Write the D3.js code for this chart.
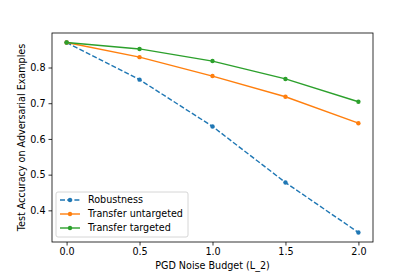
<!DOCTYPE html>
<html>
<head>
<meta charset="utf-8">
<title>PGD noise budget</title>
<script src="https://cdn.jsdelivr.net/npm/d3@7"></script>
<style>
    body { margin: 0; background: #fff; }
    svg text { font-family: "DejaVu Sans", sans-serif; font-size: 9.6px; fill: #000; }
</style>
</head>
<body>
<div id="chart"></div>
<script>
    // values
    var budgets = [0.0, 0.5, 1.0, 1.5, 2.0];
    var robustness = [0.870, 0.766, 0.635, 0.478, 0.338];
    var transferUntargeted = [0.870, 0.829, 0.776, 0.718, 0.644];
    var transferTargeted = [0.870, 0.852, 0.818, 0.768, 0.704];
    var xTicks = [0.0, 0.5, 1.0, 1.5, 2.0];
    var yTicks = [0.4, 0.5, 0.6, 0.7, 0.8];

    var series = [
        {name: "Robustness", values: robustness, color: "#1f77b4", dash: "5,2.2"},
        {name: "Transfer untargeted", values: transferUntargeted, color: "#ff7f0e", dash: null},
        {name: "Transfer targeted", values: transferTargeted, color: "#2ca02c", dash: null}
    ];

    var W = 415, H = 277;
    var pLeft = 52, pRight = 373, pTop = 33, pBottom = 242;

    var svg = d3.select("#chart").append("svg")
        .attr("width", W).attr("height", H);

    var x = d3.scaleLinear().domain([-0.1, 2.1]).range([pLeft, pRight]);
    var y = d3.scaleLinear().domain([0.3114, 0.8966]).range([pBottom, pTop]);

    // axes
    svg.append("g")
        .attr("transform", "translate(0," + pBottom + ")")
        .call(d3.axisBottom(x).tickValues(xTicks).tickFormat(d3.format(".1f")).tickSize(3.5).tickPadding(3))
        .call(function (g) { g.select(".domain").remove(); });

    svg.append("g")
        .attr("transform", "translate(" + pLeft + ",0)")
        .call(d3.axisLeft(y).tickValues(yTicks).tickFormat(d3.format(".1f")).tickSize(3.5).tickPadding(3))
        .call(function (g) { g.select(".domain").remove(); });

    svg.selectAll(".tick line").attr("stroke", "#000").attr("stroke-width", 0.8);
    svg.selectAll(".tick text").style("font-size", "9.6px");

    // frame
    svg.append("rect")
        .attr("x", pLeft).attr("y", pTop)
        .attr("width", pRight - pLeft).attr("height", pBottom - pTop)
        .attr("fill", "none").attr("stroke", "#000").attr("stroke-width", 0.8);

    var line = d3.line()
        .x(function (d, i) { return x(budgets[i]); })
        .y(function (d) { return y(d); });

    series.forEach(function (s) {
        svg.append("path")
            .datum(s.values)
            .attr("d", line)
            .attr("fill", "none")
            .attr("stroke", s.color)
            .attr("stroke-width", 1.4)
            .attr("stroke-dasharray", s.dash);
        svg.selectAll(null)
            .data(s.values)
            .enter().append("circle")
            .attr("cx", function (d, i) { return x(budgets[i]); })
            .attr("cy", function (d) { return y(d); })
            .attr("r", 2.2)
            .attr("fill", s.color);
    });

    // axis labels
    svg.append("text")
        .attr("x", (pLeft + pRight) / 2).attr("y", 269)
        .attr("text-anchor", "middle")
        .text("PGD Noise Budget (L_2)");

    svg.append("text")
        .attr("transform", "translate(25," + ((pTop + pBottom) / 2) + ") rotate(-90)")
        .attr("text-anchor", "middle")
        .text("Test Accuracy on Adversarial Examples");

    // legend
    var lg = svg.append("g");
    lg.append("rect")
        .attr("x", 56).attr("y", 192)
        .attr("width", 132).attr("height", 45)
        .attr("rx", 2)
        .attr("fill", "#fff").attr("fill-opacity", 0.8)
        .attr("stroke", "#ccc").attr("stroke-width", 0.8);

    series.forEach(function (s, i) {
        var yy = 200 + i * 14;
        lg.append("line")
            .attr("x1", 60).attr("x2", 80)
            .attr("y1", yy).attr("y2", yy)
            .attr("stroke", s.color).attr("stroke-width", 1.4)
            .attr("stroke-dasharray", s.dash);
        lg.append("circle")
            .attr("cx", 70).attr("cy", yy).attr("r", 2.2)
            .attr("fill", s.color);
        lg.append("text")
            .attr("x", 88).attr("y", yy + 3.4)
            .text(s.name);
    });
</script>
</body>
</html>
